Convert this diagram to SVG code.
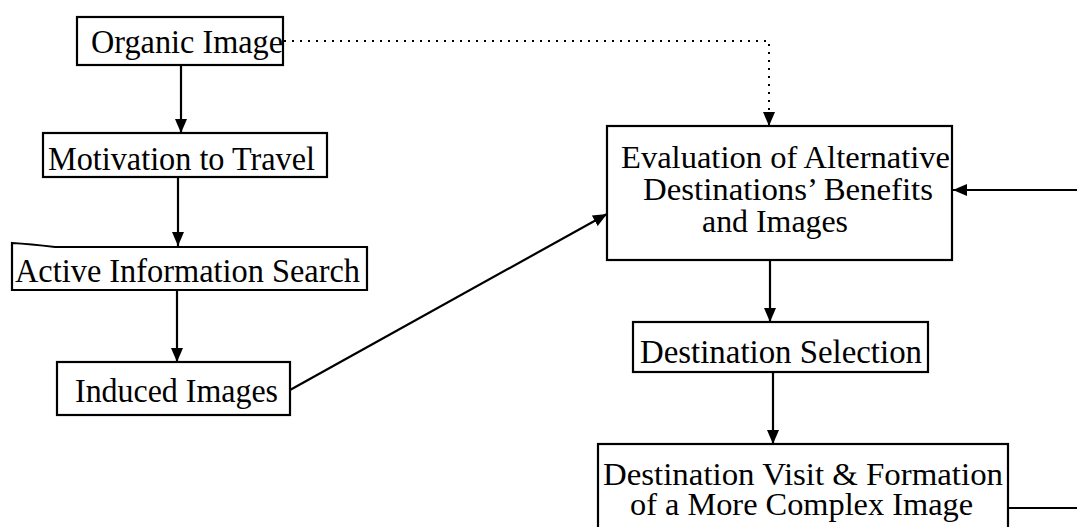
<svg xmlns="http://www.w3.org/2000/svg" width="1077" height="527" viewBox="0 0 1077 527">
  <defs>
    <marker id="arrow" viewBox="0 0 14 12" refX="14" refY="6" markerWidth="14" markerHeight="12" markerUnits="userSpaceOnUse" orient="auto">
      <path d="M0,0 L14,6 L0,12 Z" fill="#000"/>
    </marker>
    <style>
      .box { fill: #fff; stroke: #000; stroke-width: 2.2; }
      .lbl { font-family: "Liberation Serif", "Times New Roman", serif; font-size: 33px; fill: #000; }
      .multi { font-size: 32px; }
      .link { fill: none; stroke: #000; stroke-width: 2.2; }
      .dotted { fill: none; stroke: #000; stroke-width: 2; stroke-dasharray: 2 6; }
    </style>
  </defs>
  <rect width="1077" height="527" fill="#fff"/>

  <!-- connectors -->
  <g id="connectors">
    <line class="link" x1="181" y1="65" x2="181" y2="133" marker-end="url(#arrow)"/>
    <line class="link" x1="178" y1="177" x2="178" y2="246" marker-end="url(#arrow)"/>
    <line class="link" x1="177" y1="290" x2="177" y2="362" marker-end="url(#arrow)"/>
    <line class="link" x1="290" y1="390" x2="607" y2="214" marker-end="url(#arrow)"/>
    <line class="link" x1="770" y1="260" x2="770" y2="322" marker-end="url(#arrow)"/>
    <line class="link" x1="773" y1="372" x2="773" y2="444" marker-end="url(#arrow)"/>
    <line class="link" x1="1008" y1="508" x2="1077" y2="508"/>
    <line class="link" x1="1077" y1="190" x2="953" y2="190" marker-end="url(#arrow)"/>
    <polyline class="dotted" points="284,41 769,41 769,126" marker-end="url(#arrow)"/>
  </g>

  <g id="organic-image">
    <rect class="box" x="77" y="17" width="206" height="48"/>
    <text class="lbl" x="91" y="53" textLength="192" lengthAdjust="spacingAndGlyphs">Organic Image</text>
  </g>

  <g id="motivation">
    <rect class="box" x="43" y="133" width="284" height="44"/>
    <text class="lbl" x="48" y="170" textLength="267" lengthAdjust="spacingAndGlyphs">Motivation to Travel</text>
  </g>

  <g id="active-search">
    <path class="box" d="M12,243 Q30,244 55,247 L367,247 L367,290 L12,290 Z"/>
    <text class="lbl" x="15" y="282" textLength="345" lengthAdjust="spacingAndGlyphs">Active Information Search</text>
  </g>

  <g id="induced-images">
    <rect class="box" x="57" y="362" width="233" height="53"/>
    <text class="lbl" x="75" y="402" textLength="203" lengthAdjust="spacingAndGlyphs">Induced Images</text>
  </g>

  <g id="evaluation">
    <rect class="box" x="607" y="126" width="345" height="134"/>
    <text class="lbl multi" x="621" y="168" textLength="329" lengthAdjust="spacingAndGlyphs">Evaluation of Alternative</text>
    <text class="lbl multi" x="643" y="200" textLength="290" lengthAdjust="spacingAndGlyphs">Destinations’ Benefits</text>
    <text class="lbl multi" x="702" y="232" textLength="146" lengthAdjust="spacingAndGlyphs">and Images</text>
  </g>

  <g id="destination-selection">
    <rect class="box" x="633" y="322" width="295" height="50"/>
    <text class="lbl" x="640" y="363" textLength="282" lengthAdjust="spacingAndGlyphs">Destination Selection</text>
  </g>

  <g id="destination-visit">
    <rect class="box" x="598" y="444" width="410" height="100"/>
    <text class="lbl multi" x="603" y="485" textLength="400" lengthAdjust="spacingAndGlyphs">Destination Visit &amp; Formation</text>
    <text class="lbl multi" x="630" y="515" textLength="343" lengthAdjust="spacingAndGlyphs">of a More Complex Image</text>
  </g>
</svg>
